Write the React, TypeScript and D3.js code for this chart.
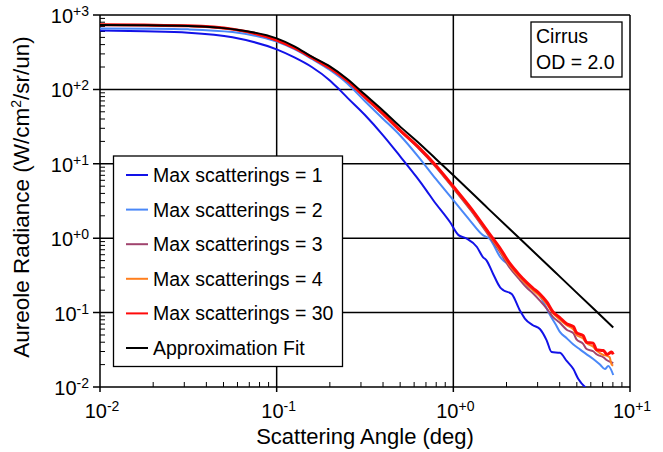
import React from 'react';
import * as d3 from 'd3';

// angle (deg), radiance pairs
const maxScat1: [number, number][] = [
  [0.01, 617], [0.0178, 603], [0.0316, 578], [0.0562, 501], [0.1, 345], [0.126, 269],
  [0.158, 200], [0.2, 132], [0.226, 100], [0.251, 77.6], [0.316, 45.2], [0.398, 24.5],
  [0.5, 12.6], [0.62, 6.61], [0.705, 4.37], [0.77, 3.24], [0.957, 1.65], [1.07, 1.1],
  [1.19, 0.986], [1.36, 0.762], [1.47, 0.558], [1.54, 0.505], [1.68, 0.331], [1.84, 0.219],
  [1.92, 0.2], [2.14, 0.178], [2.38, 0.107], [2.54, 0.0832], [2.82, 0.0676], [3.09, 0.0603],
  [3.37, 0.0427], [3.6, 0.0295], [4.01, 0.0288], [4.38, 0.0224], [4.78, 0.0174],
  [5.09, 0.0129], [5.68, 0.00955],
];

const maxScat2: [number, number][] = [
  [0.01, 661], [0.0178, 655], [0.0316, 641], [0.0562, 589], [0.1, 438], [0.126, 347],
  [0.158, 257], [0.2, 182], [0.251, 120], [0.316, 69.2], [0.398, 40.7], [0.5, 24.0],
  [0.631, 12.6], [0.794, 6.3], [1, 3.24], [1.24, 1.74], [1.47, 1.1], [1.61, 0.977],
  [1.84, 0.562], [1.92, 0.501], [2.09, 0.432], [2.38, 0.302], [2.49, 0.263], [2.69, 0.219],
  [2.96, 0.191], [3.24, 0.138], [3.52, 0.0933], [3.8, 0.0692], [4.01, 0.055], [4.37, 0.0457],
  [4.78, 0.0372], [5.25, 0.0316], [5.68, 0.0275], [6.17, 0.024], [6.76, 0.02], [7.21, 0.0174],
  [7.53, 0.0191], [8.04, 0.0145],
];

const maxScat3: [number, number][] = [
  [0.01, 736], [0.0178, 729], [0.0316, 712], [0.0562, 641], [0.1, 455], [0.126, 357],
  [0.158, 263], [0.2, 190], [0.251, 128], [0.316, 76.7], [0.398, 46.2], [0.5, 27.5],
  [0.631, 16.4], [0.794, 9.12], [1, 4.68], [1.26, 2.34], [1.58, 1.1], [1.82, 0.676],
  [2.09, 0.398], [2.34, 0.288], [2.59, 0.219], [2.82, 0.182], [3.09, 0.145], [3.39, 0.112],
  [3.67, 0.0871], [3.98, 0.0741], [4.38, 0.0589], [4.79, 0.0525], [4.98, 0.0437],
  [5.43, 0.038], [5.68, 0.0324], [6.19, 0.0302], [6.47, 0.0275], [7.06, 0.0251],
  [7.41, 0.0229], [7.87, 0.0214], [8.04, 0.0209],
];

const maxScat4: [number, number][] = [
  [0.01, 738], [0.0178, 731], [0.0316, 714], [0.0562, 644], [0.1, 459], [0.126, 361],
  [0.158, 267], [0.2, 193], [0.251, 131], [0.316, 78.5], [0.398, 47.3], [0.5, 27.9],
  [0.631, 16.9], [0.794, 9.33], [1, 4.79], [1.26, 2.42], [1.58, 1.15], [1.82, 0.708],
  [2.09, 0.427], [2.34, 0.309], [2.59, 0.24], [2.82, 0.2], [3.09, 0.166], [3.39, 0.129],
  [3.67, 0.0977], [3.98, 0.0813], [4.38, 0.0676], [4.79, 0.0589], [4.98, 0.0501],
  [5.43, 0.0447], [5.68, 0.0389], [6.19, 0.0347], [6.47, 0.0309], [7.06, 0.0269],
  [7.41, 0.0263], [7.67, 0.0251], [7.87, 0.02], [8.04, 0.0195],
];

const maxScat30: [number, number][] = [
  [0.01, 741], [0.0178, 733], [0.0316, 716], [0.0562, 646], [0.1, 461], [0.126, 363],
  [0.158, 269], [0.2, 195], [0.251, 132], [0.316, 79.4], [0.398, 47.9], [0.5, 28.2],
  [0.631, 17.0], [0.794, 9.55], [1, 4.95], [1.26, 2.51], [1.58, 1.2], [1.82, 0.759],
  [2.09, 0.457], [2.34, 0.331], [2.59, 0.257], [2.82, 0.214], [3.09, 0.178], [3.39, 0.138],
  [3.67, 0.102], [3.98, 0.0871], [4.38, 0.0708], [4.79, 0.0646], [4.98, 0.0537],
  [5.43, 0.049], [5.68, 0.0398], [6.19, 0.0389], [6.47, 0.0316], [7.06, 0.0309],
  [7.41, 0.0275], [7.87, 0.0295], [8.04, 0.0275],
];

const approxFit: [number, number][] = [
  [0.01, 733], [0.0178, 728], [0.0316, 711], [0.0562, 646], [0.1, 485], [0.126, 380],
  [0.158, 275], [0.2, 204], [0.251, 138], [0.316, 85.1], [0.398, 52.5], [0.5, 31.6],
  [0.631, 19.5], [0.794, 11.7], [1, 7.01], [1.58, 2.48], [2.51, 0.875], [3.98, 0.309],
  [6.31, 0.109], [8.04, 0.0631],
];

const seriesNames = [
  'Max scatterings = 1',
  'Max scatterings = 2',
  'Max scatterings = 3',
  'Max scatterings = 4',
  'Max scatterings = 30',
  'Approximation Fit',
];
const seriesData = [maxScat1, maxScat2, maxScat3, maxScat4, maxScat30, approxFit];

const xTickExps = [-2, -1, 0, 1];
const yTickExps = [-2, -1, 0, 1, 2, 3];
const boxLines = ['Cirrus', 'OD = 2.0'];

const colors = ['#1212e8', '#4a88f8', '#a0446e', '#ff7f1e', '#ff0a0a', '#000000'];
const widths = [2, 2, 2, 2, 3, 2];

const W = 663, H = 452;
const L = 100, R = 630, T = 15, B = 387;
const FONT = "'Liberation Sans', Arial, sans-serif";

const expLabel = (e: number) => (e < 0 ? '-' + Math.abs(e) : '+' + e);

export default function App() {
  const x = d3.scaleLog().domain([0.01, 10]).range([L, R]);
  const y = d3.scaleLog().domain([0.01, 1000]).range([B, T]);
  const line = d3.line<[number, number]>()
    .x(d => x(d[0]))
    .y(d => y(d[1]))
    .curve(d3.curveMonotoneX);

  const xAll = x.ticks();
  const yAll = y.ticks();
  const isMajor = (v: number) => Math.abs(Math.log10(v) - Math.round(Math.log10(v))) < 1e-6;
  const xMinor = xAll.filter(v => !isMajor(v));
  const yMinor = yAll.filter(v => !isMajor(v));

  return (
    <svg width={W} height={H} style={{ position: 'absolute', left: 0, top: 0, background: '#fff' }}
      fontFamily={FONT}>
      <defs>
        <clipPath id="plot">
          <rect x={L} y={T} width={R - L} height={B - T} />
        </clipPath>
      </defs>

      {/* grid */}
      {xTickExps.map(e => (
        <line key={'gx' + e} x1={x(10 ** e)} x2={x(10 ** e)} y1={T} y2={B + 5} stroke="#000" strokeWidth={1.5} />
      ))}
      {yTickExps.map(e => (
        <line key={'gy' + e} x1={L - 7} x2={R} y1={y(10 ** e)} y2={y(10 ** e)} stroke="#000" strokeWidth={1.5} />
      ))}

      {/* minor ticks */}
      {xMinor.map((v, i) => (
        <line key={'mx' + i} x1={x(v)} x2={x(v)} y1={B} y2={B - 5} stroke="#000" strokeWidth={1} />
      ))}
      {yMinor.map((v, i) => (
        <line key={'my' + i} x1={L} x2={L + 5} y1={y(v)} y2={y(v)} stroke="#000" strokeWidth={1} />
      ))}

      {/* series */}
      <g clipPath="url(#plot)" fill="none" strokeLinejoin="round">
        {seriesData.map((d, i) => (
          <path key={i} d={line(d) || ''} stroke={colors[i]} strokeWidth={widths[i]} />
        ))}
      </g>

      {/* tick labels */}
      {xTickExps.map(e => (
        <text key={'tx' + e} x={x(10 ** e) + 2} y={418} textAnchor="middle" fontSize={20}>
          10<tspan dy={-7} fontSize={14}>{expLabel(e)}</tspan>
        </text>
      ))}
      {yTickExps.map(e => (
        <text key={'ty' + e} x={89} y={y(10 ** e) + 8} textAnchor="end" fontSize={20}>
          10<tspan dy={-7} fontSize={14}>{expLabel(e)}</tspan>
        </text>
      ))}

      {/* axis titles */}
      <text x={365} y={444} textAnchor="middle" fontSize={22}>Scattering Angle (deg)</text>
      <text transform="translate(29,197) rotate(-90)" textAnchor="middle" fontSize={22.5}>
        Aureole Radiance (W/cm<tspan dy={-8} fontSize={14}>2</tspan><tspan dy={8}>/sr/un)</tspan>
      </text>

      {/* legend */}
      <rect x={113.5} y={156} width={229} height={210.5} fill="#fff" stroke="#000" strokeWidth={1.3} />
      {seriesNames.map((name, i) => {
        const cy = 175 + i * 34.6;
        return (
          <g key={name}>
            <line x1={126} x2={148} y1={cy} y2={cy} stroke={colors[i]} strokeWidth={2} />
            <text x={153} y={cy + 7} fontSize={19.5}>{name}</text>
          </g>
        );
      })}

      {/* annotation */}
      <rect x={531} y={22} width={91} height={55} fill="#fff" stroke="#000" strokeWidth={1.3} />
      {boxLines.map((t, i) => (
        <text key={t} x={536} y={43 + i * 25.5} fontSize={19.5}>{t}</text>
      ))}
    </svg>
  );
}
